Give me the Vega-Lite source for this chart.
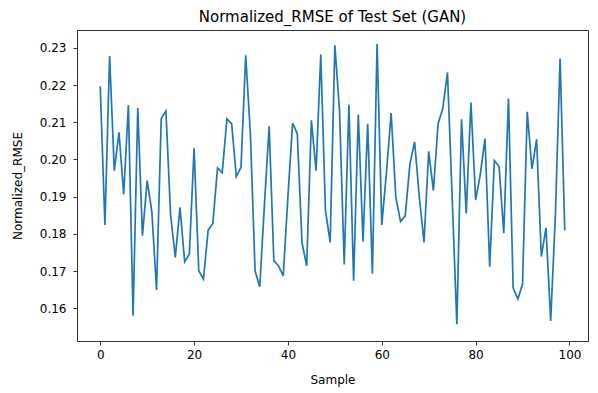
{
  "$schema": "https://vega.github.io/schema/vega-lite/v6.json",
  "width": 511,
  "height": 311,
  "autosize": {"type": "none"},
  "padding": {"left": 77, "top": 30, "right": 10, "bottom": 52},
  "background": "white",
  "title": {"text": "Normalized_RMSE of Test Set (GAN)", "font": "DejaVu Sans", "fontSize": 15, "fontWeight": "normal", "color": "#000", "offset": 5, "anchor": "middle"},
  "config": {
    "view": {"stroke": "#333", "strokeWidth": 1},
    "axis": {"labelFont": "DejaVu Sans", "titleFont": "DejaVu Sans", "labelFontSize": 12, "titleFontSize": 12, "titleFontWeight": "normal", "labelColor": "#000", "titleColor": "#000", "domainColor": "#333", "tickColor": "#333", "tickSize": 4, "grid": false}
  },
  "data": {"values": [
    {"Sample": 0, "Normalized_RMSE": 0.2197}, {"Sample": 1, "Normalized_RMSE": 0.1824}, {"Sample": 2, "Normalized_RMSE": 0.2278}, {"Sample": 3, "Normalized_RMSE": 0.1970}, {"Sample": 4, "Normalized_RMSE": 0.2073},
    {"Sample": 5, "Normalized_RMSE": 0.1906}, {"Sample": 6, "Normalized_RMSE": 0.2146}, {"Sample": 7, "Normalized_RMSE": 0.1580}, {"Sample": 8, "Normalized_RMSE": 0.2138}, {"Sample": 9, "Normalized_RMSE": 0.1795},
    {"Sample": 10, "Normalized_RMSE": 0.1943}, {"Sample": 11, "Normalized_RMSE": 0.1860}, {"Sample": 12, "Normalized_RMSE": 0.1649}, {"Sample": 13, "Normalized_RMSE": 0.2110}, {"Sample": 14, "Normalized_RMSE": 0.2130},
    {"Sample": 15, "Normalized_RMSE": 0.1850}, {"Sample": 16, "Normalized_RMSE": 0.1737}, {"Sample": 17, "Normalized_RMSE": 0.1871}, {"Sample": 18, "Normalized_RMSE": 0.1725}, {"Sample": 19, "Normalized_RMSE": 0.1746},
    {"Sample": 20, "Normalized_RMSE": 0.2030}, {"Sample": 21, "Normalized_RMSE": 0.1701}, {"Sample": 22, "Normalized_RMSE": 0.1678}, {"Sample": 23, "Normalized_RMSE": 0.1810}, {"Sample": 24, "Normalized_RMSE": 0.1828},
    {"Sample": 25, "Normalized_RMSE": 0.1977}, {"Sample": 26, "Normalized_RMSE": 0.1964}, {"Sample": 27, "Normalized_RMSE": 0.2109}, {"Sample": 28, "Normalized_RMSE": 0.2096}, {"Sample": 29, "Normalized_RMSE": 0.1954},
    {"Sample": 30, "Normalized_RMSE": 0.1979}, {"Sample": 31, "Normalized_RMSE": 0.2280}, {"Sample": 32, "Normalized_RMSE": 0.2069}, {"Sample": 33, "Normalized_RMSE": 0.1700}, {"Sample": 34, "Normalized_RMSE": 0.1658},
    {"Sample": 35, "Normalized_RMSE": 0.1880}, {"Sample": 36, "Normalized_RMSE": 0.2089}, {"Sample": 37, "Normalized_RMSE": 0.1728}, {"Sample": 38, "Normalized_RMSE": 0.1714}, {"Sample": 39, "Normalized_RMSE": 0.1687},
    {"Sample": 40, "Normalized_RMSE": 0.1900}, {"Sample": 41, "Normalized_RMSE": 0.2098}, {"Sample": 42, "Normalized_RMSE": 0.2069}, {"Sample": 43, "Normalized_RMSE": 0.1776}, {"Sample": 44, "Normalized_RMSE": 0.1714},
    {"Sample": 45, "Normalized_RMSE": 0.2105}, {"Sample": 46, "Normalized_RMSE": 0.1970}, {"Sample": 47, "Normalized_RMSE": 0.2282}, {"Sample": 48, "Normalized_RMSE": 0.1863}, {"Sample": 49, "Normalized_RMSE": 0.1777},
    {"Sample": 50, "Normalized_RMSE": 0.2307}, {"Sample": 51, "Normalized_RMSE": 0.2130}, {"Sample": 52, "Normalized_RMSE": 0.1718}, {"Sample": 53, "Normalized_RMSE": 0.2147}, {"Sample": 54, "Normalized_RMSE": 0.1674},
    {"Sample": 55, "Normalized_RMSE": 0.2121}, {"Sample": 56, "Normalized_RMSE": 0.1779}, {"Sample": 57, "Normalized_RMSE": 0.2096}, {"Sample": 58, "Normalized_RMSE": 0.1693}, {"Sample": 59, "Normalized_RMSE": 0.2310},
    {"Sample": 60, "Normalized_RMSE": 0.1824}, {"Sample": 61, "Normalized_RMSE": 0.1965}, {"Sample": 62, "Normalized_RMSE": 0.2125}, {"Sample": 63, "Normalized_RMSE": 0.1898}, {"Sample": 64, "Normalized_RMSE": 0.1833},
    {"Sample": 65, "Normalized_RMSE": 0.1849}, {"Sample": 66, "Normalized_RMSE": 0.1988}, {"Sample": 67, "Normalized_RMSE": 0.2047}, {"Sample": 68, "Normalized_RMSE": 0.1900}, {"Sample": 69, "Normalized_RMSE": 0.1777},
    {"Sample": 70, "Normalized_RMSE": 0.2022}, {"Sample": 71, "Normalized_RMSE": 0.1916}, {"Sample": 72, "Normalized_RMSE": 0.2096}, {"Sample": 73, "Normalized_RMSE": 0.2137}, {"Sample": 74, "Normalized_RMSE": 0.2234},
    {"Sample": 75, "Normalized_RMSE": 0.1900}, {"Sample": 76, "Normalized_RMSE": 0.1557}, {"Sample": 77, "Normalized_RMSE": 0.2108}, {"Sample": 78, "Normalized_RMSE": 0.1855}, {"Sample": 79, "Normalized_RMSE": 0.2153},
    {"Sample": 80, "Normalized_RMSE": 0.1891}, {"Sample": 81, "Normalized_RMSE": 0.1960}, {"Sample": 82, "Normalized_RMSE": 0.2056}, {"Sample": 83, "Normalized_RMSE": 0.1712}, {"Sample": 84, "Normalized_RMSE": 0.1997},
    {"Sample": 85, "Normalized_RMSE": 0.1981}, {"Sample": 86, "Normalized_RMSE": 0.1802}, {"Sample": 87, "Normalized_RMSE": 0.2164}, {"Sample": 88, "Normalized_RMSE": 0.1654}, {"Sample": 89, "Normalized_RMSE": 0.1625},
    {"Sample": 90, "Normalized_RMSE": 0.1665}, {"Sample": 91, "Normalized_RMSE": 0.2128}, {"Sample": 92, "Normalized_RMSE": 0.1975}, {"Sample": 93, "Normalized_RMSE": 0.2054}, {"Sample": 94, "Normalized_RMSE": 0.1739},
    {"Sample": 95, "Normalized_RMSE": 0.1816}, {"Sample": 96, "Normalized_RMSE": 0.1566}, {"Sample": 97, "Normalized_RMSE": 0.1850}, {"Sample": 98, "Normalized_RMSE": 0.2271}, {"Sample": 99, "Normalized_RMSE": 0.1809}
  ]},
  "mark": {"type": "line", "color": "#1f77b4", "strokeWidth": 1.7, "clip": true},
  "encoding": {
    "x": {"field": "Sample", "type": "quantitative", "title": "Sample",
      "scale": {"domain": [-4.95, 103.95], "nice": false, "zero": false},
      "axis": {"values": [0, 20, 40, 60, 80, 100], "format": "d", "titlePadding": 14, "labelPadding": 4}},
    "y": {"field": "Normalized_RMSE", "type": "quantitative", "title": "Normalized_RMSE",
      "scale": {"domain": [0.1512, 0.2348], "nice": false, "zero": false},
      "axis": {"values": [0.16, 0.17, 0.18, 0.19, 0.2, 0.21, 0.22, 0.23], "format": ".2f", "titlePadding": 15, "labelPadding": 7}}
  }
}
